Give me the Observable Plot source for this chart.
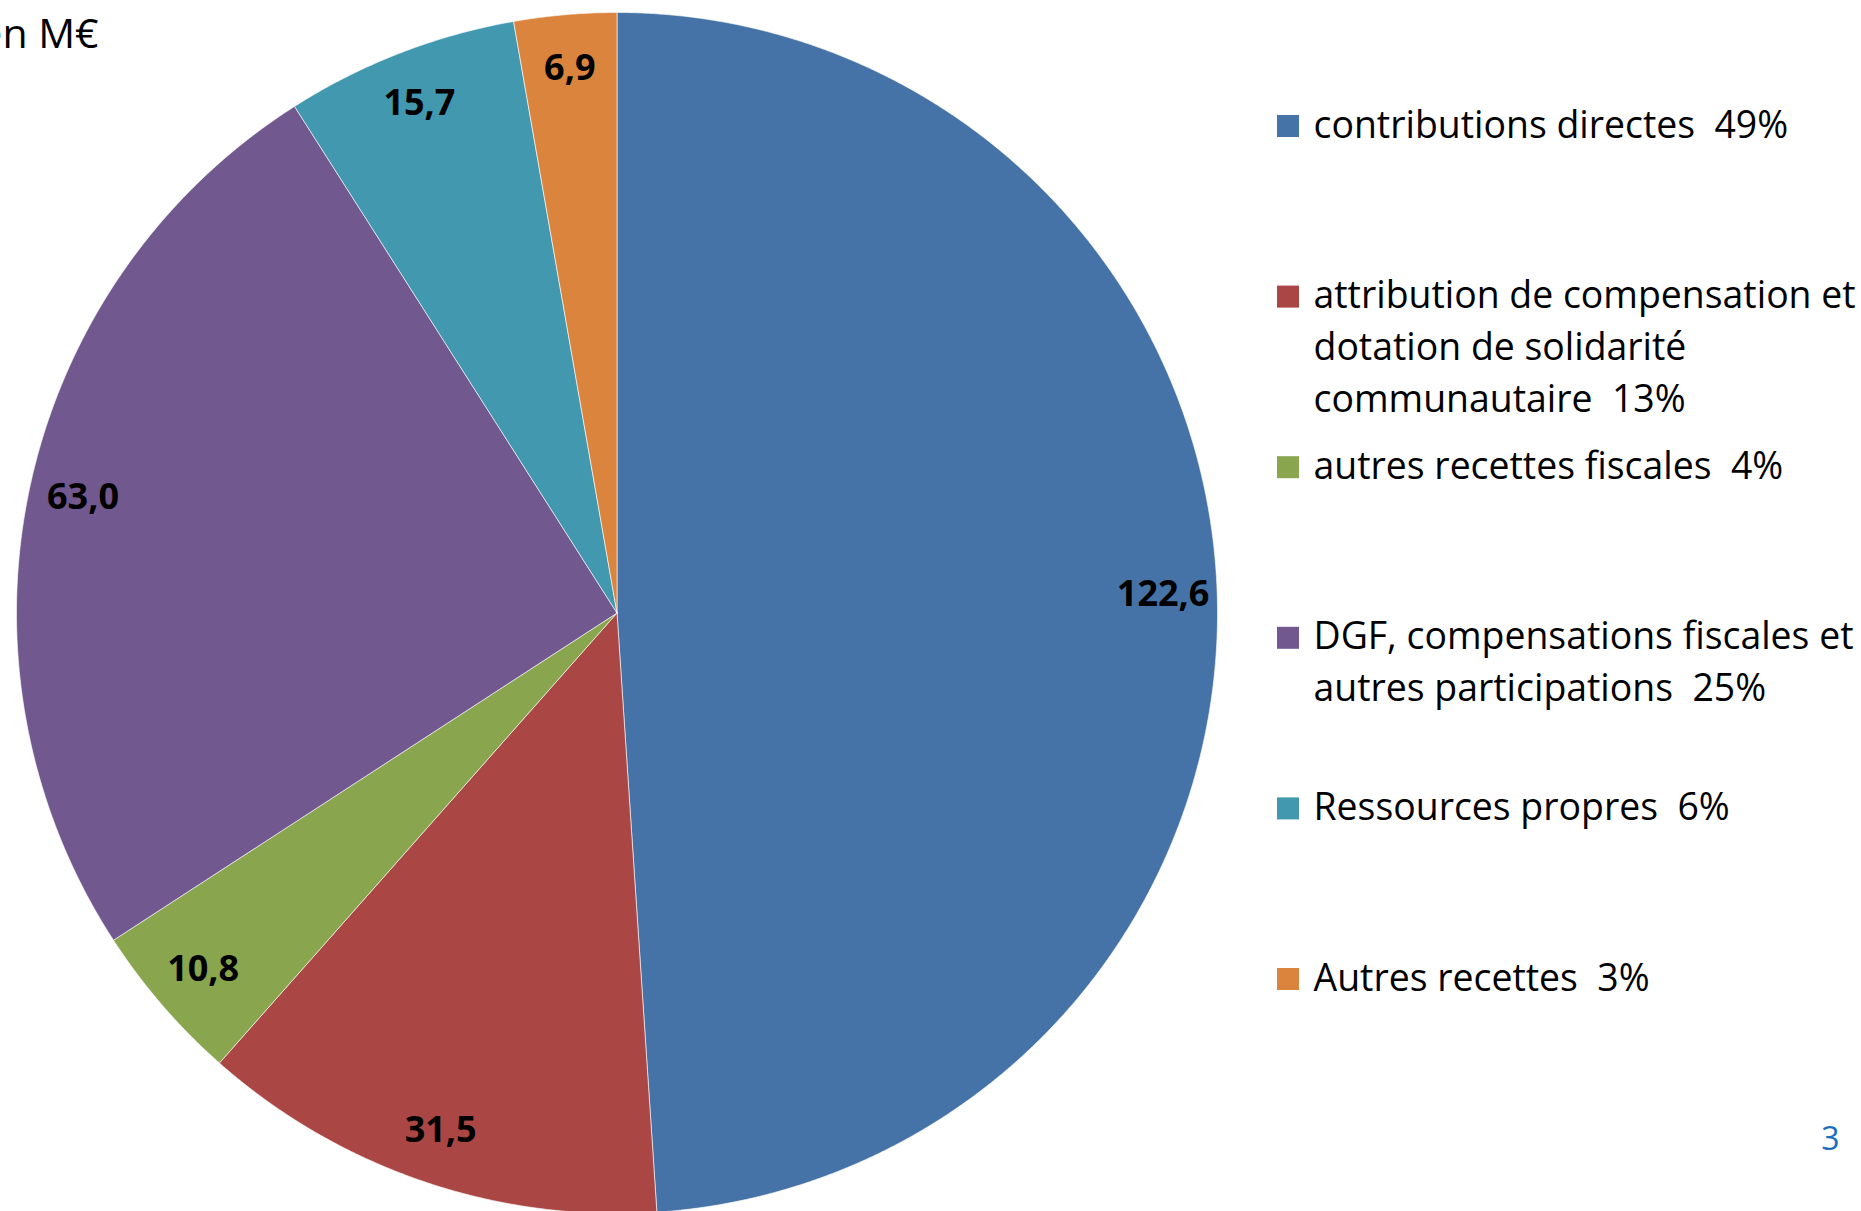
<!DOCTYPE html>
<html><head><meta charset="utf-8">
<script src="https://cdn.jsdelivr.net/npm/d3@7"></script>
<script src="https://cdn.jsdelivr.net/npm/@observablehq/plot@0.6"></script>
<style>
html,body{margin:0;padding:0;background:#fff;overflow:hidden;}
#chart svg{display:block;}
</style></head><body><div id="chart"></div>
<script>
// ---- data ----
const categories = [
  "contributions directes",
  "attribution de compensation et dotation de solidarité communautaire",
  "autres recettes fiscales",
  "DGF, compensations fiscales et autres participations",
  "Ressources propres",
  "Autres recettes"
];
const values = [122.6, 31.5, 10.8, 63.0, 15.7, 6.9];
const colors = ["#4572A7", "#AA4643", "#89A54E", "#71588F", "#4198AF", "#DB843D"];
const legendLines = [
  ["contributions directes"],
  ["attribution de compensation et", "dotation de solidarité", "communautaire"],
  ["autres recettes fiscales"],
  ["DGF, compensations fiscales et", "autres participations"],
  ["Ressources propres"],
  ["Autres recettes"]
];
const unitLabel = "en M€";
const pageNumber = "3";

// ---- layout ----
const W = 1861, H = 1211;
const cx = 616.5, cy = 612.5, R = 600.5;
const labelR = 0.91 * R;
const legendSquareX = 1277, legendSquare = 22, legendTextX = 1313;
const legendFirstY = 126, legendStep = 170.6;
const legendFont = 37.4, legendLineH = 52;

const total = d3.sum(values);
const rows = categories.map((name, i) => ({name, value: values[i], i}));
const arcs = d3.pie().sort(null).value(d => d.value).startAngle(0).endAngle(2 * Math.PI)(rows);

const px = (r, a) => cx + r * Math.sin(a);
const py = (r, a) => cy - r * Math.cos(a);

// polygon outline of each slice
const slicePts = [];
for (const a of arcs) {
  const name = a.data.name;
  slicePts.push({name, x: cx, y: cy});
  const n = Math.max(2, Math.ceil((a.endAngle - a.startAngle) / (Math.PI / 720)));
  for (let k = 0; k <= n; k++) {
    const t = a.startAngle + (a.endAngle - a.startAngle) * k / n;
    slicePts.push({name, x: px(R, t), y: py(R, t)});
  }
  slicePts.push({name, x: cx, y: cy});
}

const fmt = v => v.toFixed(1).replace(".", ",");
const labels = arcs.map(a => {
  const m = (a.startAngle + a.endAngle) / 2;
  return {name: a.data.name, text: fmt(a.data.value), x: px(labelR, m), y: py(labelR, m)};
});

const legendRows = rows.map((d, i) => {
  const yc = legendFirstY + i * legendStep;
  const lines = legendLines[i].slice();
  const pct = Math.round(d.value / total * 100);
  lines[lines.length - 1] = lines[lines.length - 1] + " \u00A0" + pct + "%";
  return {
    name: d.name,
    x1: legendSquareX, x2: legendSquareX + legendSquare,
    y1: yc - legendSquare / 2, y2: yc + legendSquare / 2,
    tx: legendTextX,
    ty: yc + 11 - 0.71 * legendLineH,
    label: lines.join("\n")
  };
});

const chart = Plot.plot({
  width: W, height: H,
  margin: 0,
  style: {fontFamily: "'Open Sans', sans-serif", background: "white"},
  x: {domain: [0, W], range: [0, W], axis: null},
  y: {domain: [0, H], range: [0, H], axis: null},
  color: {domain: categories, range: colors},
  marks: [
    Plot.line(slicePts, {x: "x", y: "y", z: "name", fill: "name", stroke: "white", strokeWidth: 1, strokeOpacity: 0.6, curve: "linear"}),
    Plot.text(labels, {x: "x", y: "y", text: "text", fontSize: 36, fontWeight: "bold", fill: "black", fontFamily: "'Open Sans', sans-serif"}),
    Plot.rect(legendRows, {x1: "x1", x2: "x2", y1: "y1", y2: "y2", fill: "name"}),
    Plot.text(legendRows, {x: "tx", y: "ty", text: "label", textAnchor: "start", lineAnchor: "top", lineHeight: legendLineH / legendFont, fontSize: legendFont, fill: "black", fontFamily: "'Open Sans', sans-serif"}),
    Plot.text([unitLabel], {x: () => 98, y: () => 47, text: d => d, textAnchor: "end", lineAnchor: "bottom", fontSize: 41, fill: "black"}),
    Plot.text([pageNumber], {x: () => 1830, y: () => 1149, text: d => d, textAnchor: "middle", lineAnchor: "bottom", fontSize: 32, fill: "#1A6FBF"})
  ]
});
document.getElementById("chart").appendChild(chart);
</script>
</body></html>
